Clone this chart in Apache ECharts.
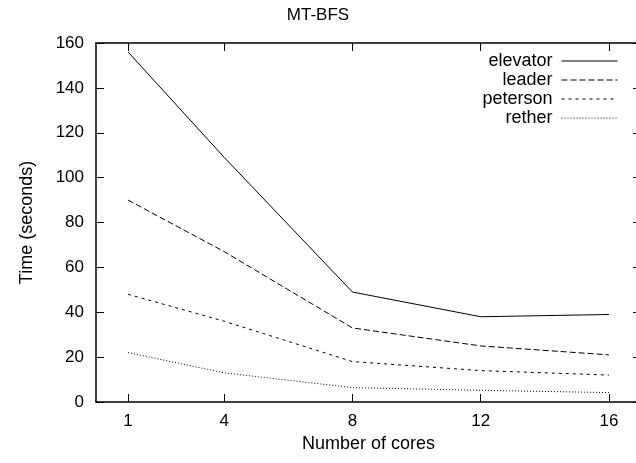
<!DOCTYPE html>
<html>
<head>
<meta charset="utf-8">
<script src="https://cdn.jsdelivr.net/npm/echarts@6/dist/echarts.min.js"></script>
<style>
  html, body { margin: 0; padding: 0; background: #fff; }
  #main { width: 636px; height: 463px; }
</style>
</head>
<body>
<div id="main"></div>
<script>
// data
var cores = [1, 4, 8, 12, 16];
var elevator = [156, 109, 49, 38, 39];
var leader = [90, 67, 33, 25, 21];
var peterson = [48, 36, 18, 14, 12];
var rether = [22, 13, 6.4, 5.2, 4.2];
var yTicks = [0, 20, 40, 60, 80, 100, 120, 140, 160];

var FONT = 'Liberation Sans';

function pairs(vals) {
  return cores.map(function (c, i) { return [c, vals[i]]; });
}

function lineSeries(name, vals, dash) {
  return {
    name: name,
    type: 'line',
    data: pairs(vals),
    symbol: 'none',
    color: '#000',
    animation: false,
    lineStyle: { color: '#000', width: 1, type: dash }
  };
}

var chart = echarts.init(document.getElementById('main'), null, { renderer: 'canvas' });

var border = { show: true, onZero: false, lineStyle: { color: '#000', width: 1.5 } };
var tick = { show: true, inside: true, length: 8, lineStyle: { color: '#000', width: 1 } };

var option = {
  backgroundColor: '#fff',
  animation: false,
  title: {
    text: 'MT-BFS',
    left: 'center',
    top: 7,
    padding: [0, 0, 0, 96],
    textStyle: { fontFamily: FONT, fontSize: 17, fontWeight: 'normal', color: '#000' }
  },
  legend: {
    orient: 'vertical',
    right: 18,
    top: 52,
    align: 'right',
    padding: 0,
    itemWidth: 56,
    itemHeight: 10,
    itemGap: 1,
    itemStyle: { opacity: 0 },
    lineStyle: { width: 1 },
    textStyle: { fontFamily: FONT, fontSize: 18, color: '#000', lineHeight: 18, padding: [0, 4, 0, 0] },
    data: ['elevator', 'leader', 'peterson', 'rether']
  },
  grid: { left: 96, right: -5, top: 43, bottom: 61, outerBoundsMode: 'none' },
  xAxis: [{
    type: 'value',
    min: 0,
    max: 17,
    name: 'Number of cores',
    nameLocation: 'middle',
    nameGap: 29,
    nameTextStyle: { fontFamily: FONT, fontSize: 18, color: '#000' },
    axisLine: border,
    axisTick: Object.assign({ customValues: cores }, tick),
    axisLabel: { customValues: cores, margin: 11, fontFamily: FONT, fontSize: 17, color: '#000' },
    splitLine: { show: false }
  }, {
    type: 'value',
    position: 'top',
    min: 0,
    max: 17,
    axisLine: border,
    axisTick: Object.assign({ customValues: cores }, tick),
    axisLabel: { show: false },
    splitLine: { show: false }
  }],
  yAxis: [{
    type: 'value',
    min: 0,
    max: 160,
    interval: 20,
    name: 'Time (seconds)',
    nameLocation: 'middle',
    nameGap: 60,
    nameTextStyle: { fontFamily: FONT, fontSize: 18, color: '#000' },
    axisLine: border,
    axisTick: Object.assign({ customValues: yTicks }, tick),
    axisLabel: { margin: 12, fontFamily: FONT, fontSize: 17, color: '#000' },
    splitLine: { show: false }
  }, {
    type: 'value',
    position: 'right',
    min: 0,
    max: 160,
    interval: 20,
    axisLine: border,
    axisTick: Object.assign({ customValues: yTicks }, tick),
    axisLabel: { show: false },
    splitLine: { show: false }
  }],
  series: [
    lineSeries('elevator', elevator, 'solid'),
    lineSeries('leader', leader, [6, 3]),
    lineSeries('peterson', peterson, [3, 4]),
    lineSeries('rether', rether, [1, 2])
  ]
};

chart.setOption(option);
</script>
</body>
</html>
